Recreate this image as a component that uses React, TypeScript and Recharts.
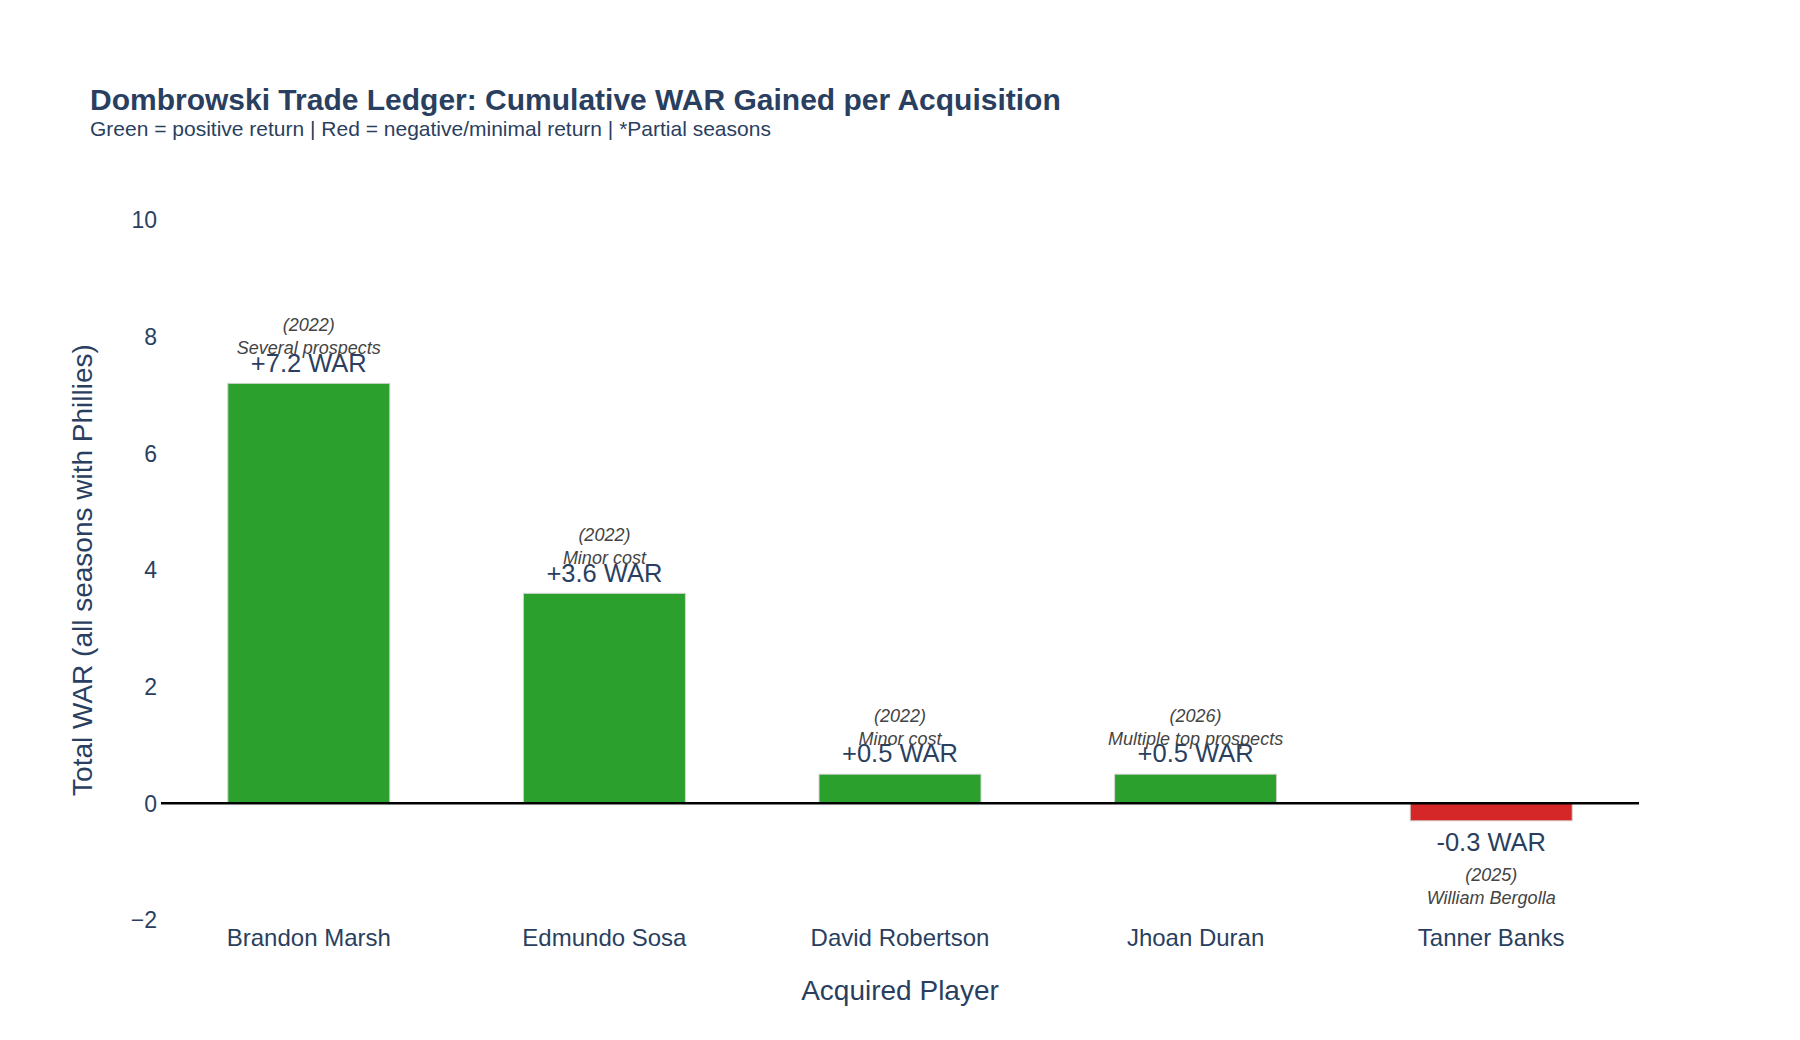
import { Bar, BarChart, ReferenceLine, XAxis, YAxis } from "recharts";

const players = ["Brandon Marsh", "Edmundo Sosa", "David Robertson", "Jhoan Duran", "Tanner Banks"];
const war = [7.2, 3.6, 0.5, 0.5, -0.3];
const tradeYears = ["(2022)", "(2022)", "(2022)", "(2026)", "(2025)"];
const costs = ["Several prospects", "Minor cost", "Minor cost", "Multiple top prospects", "William Bergolla"];
const yTicks = [-2, 0, 2, 4, 6, 8, 10];

const data = players.map((name, i) => ({ name, war: war[i], year: tradeYears[i], cost: costs[i] }));

const FONT = '"Liberation Sans", Arial, Helvetica, sans-serif';
const INK = "#2a3f5f";
const NOTE = "#444444";
const GREEN = "#2ca02c";
const RED = "#d62728";

function fmtWar(v: number) {
  return v > 0 ? `+${v.toFixed(1)} WAR` : `${v.toFixed(1)} WAR`;
}

// bar + its value label + the two italic annotation lines
function WarBar(props: any) {
  const { x, y, width, height, payload } = props;
  const top = Math.min(y, y + height);
  const h = Math.abs(height);
  const bottom = top + h;
  const cx = x + width / 2;
  const pos = payload.war >= 0;
  const mid = (c: number, fs: number) => c + fs * 0.36;
  return (
    <g>
      <rect x={x} y={top} width={width} height={h} fill={pos ? GREEN : RED} stroke="#d4d4d4" strokeWidth={1} />
      <text x={cx} y={mid(pos ? top - 21 : bottom + 21, 25.5)} textAnchor="middle" fontSize={25.5} fill={INK} fontFamily={FONT}>
        {fmtWar(payload.war)}
      </text>
      <text x={cx} y={mid(pos ? top - 59 : bottom + 54, 18)} textAnchor="middle" fontSize={18} fontStyle="italic" fill={NOTE} fontFamily={FONT}>
        {payload.year}
      </text>
      <text x={cx} y={mid(pos ? top - 36 : bottom + 77, 18)} textAnchor="middle" fontSize={18} fontStyle="italic" fill={NOTE} fontFamily={FONT}>
        {payload.cost}
      </text>
    </g>
  );
}

function CategoryTick(props: any) {
  const { x, y, payload } = props;
  return (
    <text x={x} y={y + 17 + 24 * 0.36} textAnchor="middle" fontSize={24} fill={INK} fontFamily={FONT}>
      {payload.value}
    </text>
  );
}

function ValueTick(props: any) {
  const { x, y, payload } = props;
  const v = payload.value as number;
  return (
    <text x={x} y={y + 23 * 0.36} textAnchor="end" fontSize={23} fill={INK} fontFamily={FONT}>
      {v < 0 ? `\u2212${Math.abs(v)}` : `${v}`}
    </text>
  );
}

export default function App() {
  return (
    <div style={{ position: "absolute", left: 0, top: 0, width: 1800, height: 1040, background: "#fff", fontFamily: FONT }}>
      <div style={{ position: "absolute", left: 90, top: 84, fontSize: 30, lineHeight: "32px", fontWeight: 700, color: INK, whiteSpace: "nowrap" }}>
        Dombrowski Trade Ledger: Cumulative WAR Gained per Acquisition
      </div>
      <div style={{ position: "absolute", left: 90, top: 117, fontSize: 21, lineHeight: "24px", color: INK, whiteSpace: "nowrap" }}>
        Green = positive return | Red = negative/minimal return | *Partial seasons
      </div>
      <div style={{ position: "absolute", left: 0, top: 0 }}>
        <BarChart width={1800} height={1040} data={data} margin={{ top: 220, right: 161, bottom: 0, left: 0 }} barCategoryGap="22.6%">
          <XAxis
            dataKey="name"
            height={120}
            tickLine={false}
            axisLine={false}
            tickSize={0}
            tickMargin={0}
            tick={<CategoryTick />}
            interval={0}
            label={{
              content: (p: any) => {
                const vb = p.viewBox || { x: 161, y: 920, width: 1478 };
                return (
                  <text x={vb.x + vb.width / 2} y={vb.y + 70 + 28 * 0.36} textAnchor="middle" fontSize={28} fill={INK} fontFamily={FONT}>
                    Acquired Player
                  </text>
                );
              },
            }}
          />
          <YAxis
            width={161}
            domain={[-2, 10]}
            ticks={yTicks}
            tickLine={false}
            axisLine={false}
            tickSize={0}
            tickMargin={4}
            tick={<ValueTick />}
            label={{
              content: (p: any) => {
                const vb = p.viewBox || { x: 0, y: 220, width: 161, height: 700 };
                const cx = 82;
                const cy = vb.y + vb.height / 2;
                return (
                  <text
                    x={cx}
                    y={cy + 28 * 0.36}
                    transform={`rotate(-90 ${cx} ${cy})`}
                    textAnchor="middle"
                    fontSize={28}
                    fill={INK}
                    fontFamily={FONT}
                  >
                    Total WAR (all seasons with Phillies)
                  </text>
                );
              },
            }}
          />
          <Bar dataKey="war" shape={<WarBar />} isAnimationActive={false} />
          <ReferenceLine y={0} stroke="#000" strokeWidth={2.5} ifOverflow="extendDomain" />
        </BarChart>
      </div>
    </div>
  );
}
